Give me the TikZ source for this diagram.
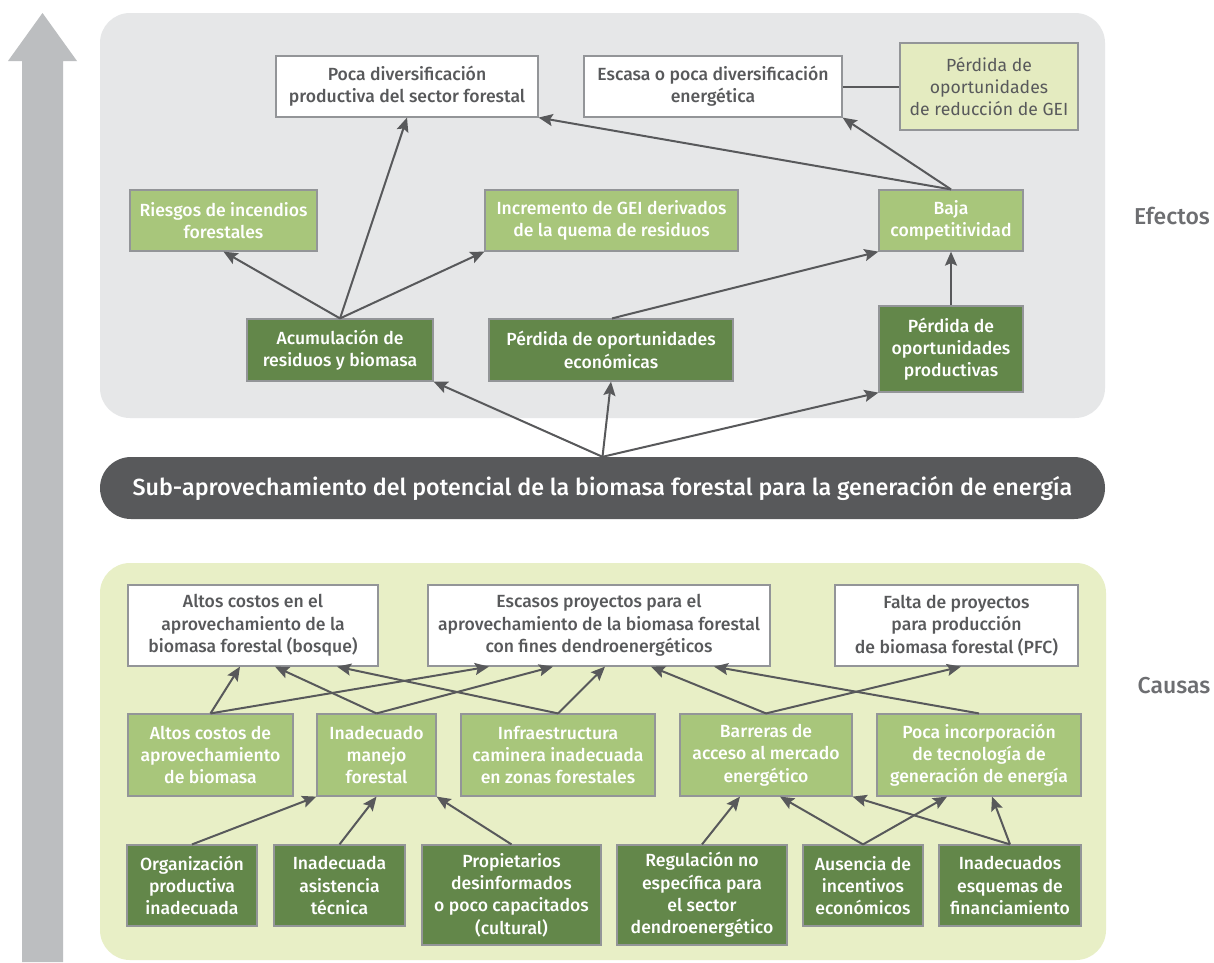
\documentclass[tikz,border=0pt]{standalone}
\usepackage{fontspec}
\setmainfont{Fira Sans}
\newfontfamily\medfont{Fira Sans Medium}
\usetikzlibrary{arrows.meta,calc}
\definecolor{panelgray}{HTML}{E6E7E8}
\definecolor{panelgreen}{HTML}{E8EFC6}
\definecolor{geibox}{HTML}{E4EBC0}
\definecolor{bigarrow}{HTML}{BCBEC0}
\definecolor{darkbar}{HTML}{58595B}
\definecolor{dkgreen}{HTML}{63874A}
\definecolor{ltgreen}{HTML}{A8C67B}
\definecolor{boxline}{HTML}{939598}
\definecolor{txtgray}{HTML}{58595B}
\definecolor{lblgray}{HTML}{6D6E71}
\begin{document}
\begin{tikzpicture}[x=1pt,y=-1pt,
  box/.style={draw=boxline,line width=1.2pt,inner sep=0pt,align=center,
    font=\medfont\fontsize{17.6}{22.3}\selectfont},
  whitebox/.style={box,fill=white,text=txtgray},
  lightbox/.style={box,fill=ltgreen,text=white},
  darkbox/.style={box,fill=dkgreen,text=white},
  conn/.style={draw=darkbar,line width=2pt,-{Stealth[length=14pt,width=12pt,inset=2.5pt]}},
  plain/.style={draw=darkbar,line width=2pt},
  sidelabel/.style={text=lblgray,font=\medfont\fontsize{23}{26}\selectfont},
]
\fill[white] (0,0) rectangle (1214,962);
\useasboundingbox (0,0) rectangle (1214,962);

% big side arrow
\fill[bigarrow] (22,962) -- (22,61) -- (8,61) -- (42.5,13) -- (77,61) -- (63,61) -- (63,962) -- cycle;

% panels
\fill[panelgray,rounded corners=30pt] (100,13) rectangle (1105,418);
\fill[panelgreen,rounded corners=30pt] (100,563) rectangle (1106,960);

% side labels
\node[sidelabel] (efectos) at (1172,216) {Efectos};
\node[sidelabel] (causas) at (1174,686) {Causas};

% central problem
\node[fill=darkbar,rounded corners=31pt,minimum width=1005pt,minimum height=62pt,inner sep=0pt,
  text=white,font=\medfont\fontsize{23.3}{26}\selectfont] (problem) at (602.5,488)
  {Sub-aprovechamiento del potencial de la biomasa forestal para la generación de energía};

% ---------- Effects ----------
\node[whitebox,minimum width=262pt,minimum height=61pt] (pocadiv) at (407,86.5)
  {Poca diversificación\\productiva del sector forestal};
\node[whitebox,minimum width=258pt,minimum height=61pt] (escasa) at (713,86.5)
  {Escasa o poca diversificación\\energética};
\node[box,fill=geibox,text=txtgray,font=\fontsize{17.6}{22.3}\selectfont,
  minimum width=178pt,minimum height=87pt] (gei) at (989,86.5)
  {Pérdida de\\oportunidades\\de reducción de GEI};
\node[lightbox,minimum width=187pt,minimum height=61pt] (riesgos) at (223.5,220.5)
  {Riesgos de incendios\\forestales};
\node[lightbox,minimum width=253pt,minimum height=61pt] (incremento) at (611.5,220.5)
  {Incremento de GEI derivados\\de la quema de residuos};
\node[lightbox,minimum width=144pt,minimum height=61pt] (baja) at (951,220.5)
  {Baja\\competitividad};
\node[darkbox,minimum width=186pt,minimum height=62pt] (acum) at (340,350)
  {Acumulación de\\residuos y biomasa};
\node[darkbox,minimum width=244pt,minimum height=62pt] (perdeco) at (611,350)
  {Pérdida de oportunidades\\económicas};
\node[darkbox,minimum width=144pt,minimum height=86pt] (perdprod) at (951,349)
  {Pérdida de\\oportunidades\\productivas};

\draw[plain] (escasa.east) -- (gei.west);
\draw[conn] (acum.north) -- (riesgos.south);
\draw[conn] (acum.north) -- (pocadiv.south);
\draw[conn] (acum.north) -- (incremento.south west);
\draw[conn] ([xshift=1pt]perdeco.north) -- (baja.south west);
\draw[conn] (baja.north) -- (pocadiv.south east);
\draw[conn] (baja.north) -- (escasa.south east);
\draw[conn] (perdprod.north) -- (baja.south);
\draw[conn] (problem.north) -- (acum.south east);
\draw[conn] (problem.north) -- (perdeco.south);
\draw[conn] (problem.north) -- (perdprod.south west);

% ---------- Causes ----------
\node[whitebox,minimum width=250pt,minimum height=81pt] (altoscostos) at (253,625.5)
  {Altos costos en el\\aprovechamiento de la\\biomasa forestal (bosque)};
\node[whitebox,minimum width=342pt,minimum height=81pt] (escasos) at (599,625.5)
  {Escasos proyectos para el\\aprovechamiento de la biomasa forestal\\con fines dendroenergéticos};
\node[whitebox,minimum width=243pt,minimum height=81pt] (falta) at (956.5,625.5)
  {Falta de proyectos\\para producción\\de biomasa forestal (PFC)};

\node[lightbox,minimum width=165pt,minimum height=82pt] (altosaprov) at (210.5,755)
  {Altos costos de\\aprovechamiento\\de biomasa};
\node[lightbox,minimum width=119pt,minimum height=82pt] (manejo) at (376.5,755)
  {Inadecuado\\manejo\\forestal};
\node[lightbox,minimum width=194pt,minimum height=82pt] (infra) at (558,755)
  {Infraestructura\\caminera inadecuada\\en zonas forestales};
\node[lightbox,minimum width=172pt,minimum height=82pt] (barreras) at (766,755)
  {Barreras de\\acceso al mercado\\energético};
\node[lightbox,minimum width=204pt,minimum height=82pt] (pocainc) at (979,755)
  {Poca incorporación\\de tecnología de\\generación de energía};

\node[darkbox,minimum width=130pt,minimum height=81pt] (org) at (192,885.5)
  {Organización\\productiva\\inadecuada};
\node[darkbox,minimum width=131pt,minimum height=81pt] (asist) at (339.5,885.5)
  {Inadecuada\\asistencia\\técnica};
\node[darkbox,minimum width=179pt,minimum height=100pt] (prop) at (511.5,895)
  {Propietarios\\desinformados\\o poco capacitados\\(cultural)};
\node[darkbox,minimum width=170pt,minimum height=100pt] (regul) at (702,895)
  {Regulación no\\específica para\\el sector\\dendroenergético};
\node[darkbox,minimum width=120pt,minimum height=81pt] (ausencia) at (863,885.5)
  {Ausencia de\\incentivos\\económicos};
\node[darkbox,minimum width=142pt,minimum height=81pt] (esquemas) at (1010,885.5)
  {Inadecuados\\esquemas de\\financiamiento};

% middle -> top
\draw[conn] (altosaprov.north) -- ([xshift=-13pt]altoscostos.south);
\draw[conn] (altosaprov.north) -- ([xshift=-110pt]escasos.south);
\draw[conn] (manejo.north) -- ([xshift=22pt]altoscostos.south);
\draw[conn] (manejo.north) -- ([xshift=-46pt]escasos.south);
\draw[conn] (infra.north) -- ([xshift=84pt]altoscostos.south);
\draw[conn] (infra.north) -- ([xshift=6pt]escasos.south);
\draw[conn] (barreras.north) -- ([xshift=52pt]escasos.south);
\draw[conn] (barreras.north) -- ([xshift=4.5pt]falta.south);
\draw[conn] (pocainc.north) -- ([xshift=115pt]escasos.south);

% bottom -> middle
\draw[conn] (org.north) -- (manejo.south west);
\draw[conn] (asist.north) -- (manejo.south);
\draw[conn] (prop.north) -- (manejo.south east);
\draw[conn] (regul.north) -- ([xshift=-26pt]barreras.south);
\draw[conn] (ausencia.north) -- ([xshift=14pt]barreras.south);
\draw[conn] (ausencia.north) -- ([xshift=-32pt]pocainc.south);
\draw[conn] (esquemas.north) -- (barreras.south east);
\draw[conn] (esquemas.north) -- ([xshift=13pt]pocainc.south);
\end{tikzpicture}
\end{document}
